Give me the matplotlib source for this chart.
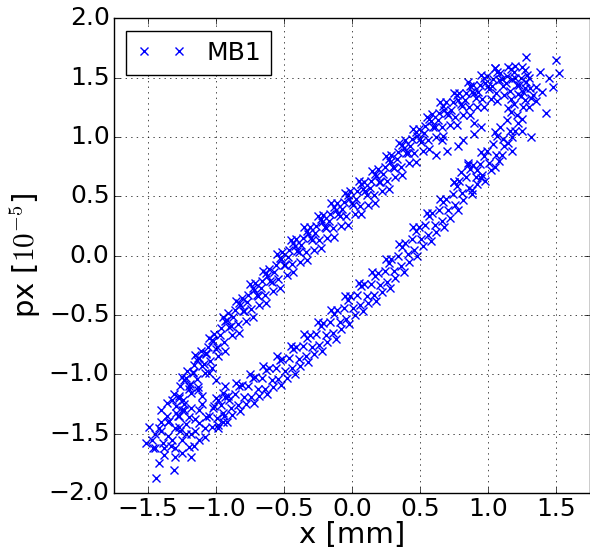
import numpy as np
import matplotlib
matplotlib.use('Agg')
import matplotlib.pyplot as plt

plt.style.use('classic')

# upper band of the ring
upper_x = [-1.31, -1.29, -1.27, -1.32, -1.26, -1.24, -1.23, -1.27, -1.21, -1.19, -1.18, -1.22,
           -1.16, -1.14, -1.13, -1.17, -1.11, -1.09, -1.08, -1.12, -1.06, -1.04, -1.03, -1.07,
           -1.01, -0.99, -0.98, -1.02, -0.96, -0.94, -0.93, -0.97, -0.91, -0.89, -0.88, -0.92,
           -0.86, -0.84, -0.83, -0.87, -0.81, -0.79, -0.78, -0.82, -0.76, -0.74, -0.73, -0.77,
           -0.71, -0.69, -0.68, -0.72, -0.66, -0.64, -0.63, -0.67, -0.61, -0.59, -0.58, -0.62,
           -0.56, -0.54, -0.53, -0.57, -0.51, -0.49, -0.48, -0.52, -0.46, -0.44, -0.43, -0.47,
           -0.41, -0.39, -0.38, -0.42, -0.36, -0.34, -0.33, -0.37, -0.31, -0.29, -0.28, -0.32,
           -0.26, -0.24, -0.23, -0.27, -0.21, -0.19, -0.18, -0.22, -0.16, -0.14, -0.13, -0.17,
           -0.11, -0.09, -0.08, -0.12, -0.06, -0.04, -0.03, -0.07, -0.01, 0.01, 0.02, -0.02,
           0.04, 0.06, 0.07, 0.03, 0.09, 0.11, 0.12, 0.08, 0.14, 0.16, 0.17, 0.13,
           0.19, 0.21, 0.22, 0.18, 0.24, 0.26, 0.27, 0.23, 0.29, 0.31, 0.32, 0.28,
           0.34, 0.36, 0.37, 0.33, 0.39, 0.41, 0.42, 0.38, 0.44, 0.46, 0.47, 0.43,
           0.49, 0.51, 0.52, 0.48, 0.54, 0.56, 0.57, 0.53, 0.59, 0.61, 0.62, 0.58,
           0.64, 0.66, 0.67, 0.63, 0.69, 0.71, 0.72, 0.68, 0.74, 0.76, 0.77, 0.73,
           0.79, 0.81, 0.82, 0.78, 0.84, 0.86, 0.87, 0.83, 0.89, 0.91, 0.92, 0.88,
           0.94, 0.96, 0.97, 0.93, 0.99, 1.01, 1.02, 0.98, 1.04, 1.06, 1.07, 1.03,
           1.09, 1.11, 1.12, 1.08, 1.14, 1.16, 1.17, 1.13, 1.19, 1.21, 1.22, 1.18,
           1.24, 1.26, 1.27, 1.23, 1.29, 1.31, 1.32, 1.28]
upper_y = [-1.17, -1.27, -1.35, -1.22, -1.10, -1.22, -1.05, -1.18, -0.97, -1.08, -1.16, -1.03,
           -0.92, -1.04, -0.86, -0.98, -0.80, -0.91, -0.99, -0.86, -0.77, -0.89, -0.71, -0.83,
           -0.66, -0.77, -0.85, -0.72, -0.61, -0.73, -0.55, -0.67, -0.48, -0.59, -0.67, -0.54,
           -0.46, -0.58, -0.40, -0.52, -0.36, -0.47, -0.55, -0.42, -0.33, -0.45, -0.27, -0.39,
           -0.23, -0.34, -0.42, -0.29, -0.21, -0.33, -0.15, -0.27, -0.11, -0.22, -0.30, -0.17,
           -0.08, -0.20, -0.02, -0.14, 0.03, -0.08, -0.16, -0.03, 0.05, -0.07, 0.11, -0.01,
           0.14, 0.03, -0.05, 0.08, 0.15, 0.03, 0.21, 0.09, 0.24, 0.13, 0.05, 0.18,
           0.25, 0.13, 0.31, 0.19, 0.34, 0.23, 0.15, 0.28, 0.35, 0.23, 0.41, 0.29,
           0.44, 0.33, 0.25, 0.38, 0.45, 0.33, 0.51, 0.39, 0.54, 0.43, 0.35, 0.48,
           0.54, 0.42, 0.60, 0.48, 0.62, 0.51, 0.43, 0.56, 0.63, 0.51, 0.69, 0.57,
           0.73, 0.62, 0.54, 0.67, 0.75, 0.63, 0.81, 0.69, 0.85, 0.74, 0.66, 0.79,
           0.87, 0.75, 0.93, 0.81, 0.97, 0.86, 0.78, 0.91, 0.98, 0.86, 1.04, 0.92,
           1.07, 0.96, 0.88, 1.01, 1.09, 0.97, 1.15, 1.03, 1.19, 1.08, 1.00, 1.13,
           1.20, 1.08, 1.26, 1.14, 1.29, 1.18, 1.10, 1.23, 1.29, 1.17, 1.35, 1.23,
           1.37, 1.26, 1.18, 1.31, 1.37, 1.25, 1.43, 1.31, 1.44, 1.33, 1.25, 1.38,
           1.44, 1.32, 1.50, 1.38, 1.51, 1.40, 1.32, 1.45, 1.49, 1.37, 1.55, 1.43,
           1.54, 1.43, 1.35, 1.48, 1.51, 1.39, 1.57, 1.45, 1.55, 1.44, 1.36, 1.49,
           1.50, 1.38, 1.56, 1.44, 1.52, 1.41, 1.33, 1.46]

# edges of the upper band
upper2_x = [-1.25, -1.23, -1.20, -1.15, -1.13, -1.10, -1.05, -1.03, -1.00, -0.95, -0.93, -0.90,
            -0.85, -0.83, -0.80, -0.75, -0.73, -0.70, -0.65, -0.63, -0.60, -0.55, -0.53, -0.50,
            -0.45, -0.43, -0.40, -0.35, -0.33, -0.30, -0.25, -0.23, -0.20, -0.15, -0.13, -0.10,
            -0.05, -0.03, 0.00, 0.05, 0.07, 0.10, 0.15, 0.17, 0.20, 0.25, 0.27, 0.30,
            0.35, 0.37, 0.40, 0.45, 0.47, 0.50, 0.55, 0.57, 0.60, 0.65, 0.67, 0.70,
            0.75, 0.77, 0.80, 0.85, 0.87, 0.90, 0.95, 0.97, 1.00, 1.05, 1.07, 1.10,
            1.15, 1.17, 1.20, 1.25, 1.27, 1.30]
upper2_y = [-1.02, -1.30, -1.12, -0.84, -1.11, -0.93, -0.69, -0.95, -0.79, -0.52, -0.80, -0.60,
            -0.38, -0.65, -0.47, -0.24, -0.52, -0.33, -0.13, -0.40, -0.21, 0.01, -0.27, -0.08,
            0.13, -0.14, 0.04, 0.24, -0.04, 0.15, 0.33, 0.06, 0.24, 0.44, 0.16, 0.35,
            0.53, 0.26, 0.44, 0.63, 0.35, 0.54, 0.71, 0.44, 0.62, 0.84, 0.56, 0.75,
            0.95, 0.68, 0.86, 1.07, 0.79, 0.98, 1.17, 0.90, 1.08, 1.29, 1.01, 1.20,
            1.37, 1.10, 1.28, 1.46, 1.18, 1.37, 1.52, 1.25, 1.43, 1.58, 1.30, 1.49,
            1.59, 1.32, 1.50, 1.59, 1.31, 1.50]

# lower band of the ring
lower_x = [-1.01, -0.99, -0.98, -0.96, -0.94, -0.93, -0.91, -0.89, -0.88, -0.86, -0.84, -0.83,
           -0.81, -0.79, -0.78, -0.76, -0.74, -0.73, -0.71, -0.69, -0.68, -0.66, -0.64, -0.63,
           -0.61, -0.59, -0.58, -0.56, -0.54, -0.53, -0.51, -0.49, -0.48, -0.46, -0.44, -0.43,
           -0.41, -0.39, -0.38, -0.36, -0.34, -0.33, -0.31, -0.29, -0.28, -0.26, -0.24, -0.23,
           -0.21, -0.19, -0.18, -0.16, -0.14, -0.13, -0.11, -0.09, -0.08, -0.06, -0.04, -0.03,
           -0.01, 0.01, 0.02, 0.04, 0.06, 0.07, 0.09, 0.11, 0.12, 0.14, 0.16, 0.17,
           0.19, 0.21, 0.22, 0.24, 0.26, 0.27, 0.29, 0.31, 0.32, 0.34, 0.36, 0.37,
           0.39, 0.41, 0.42, 0.44, 0.46, 0.47, 0.49, 0.51, 0.52, 0.54, 0.56, 0.57,
           0.59, 0.61, 0.62, 0.64, 0.66, 0.67, 0.69, 0.71, 0.72, 0.74, 0.76, 0.77,
           0.79, 0.81, 0.82, 0.84, 0.86, 0.87, 0.89, 0.91, 0.92, 0.94, 0.96, 0.97,
           0.99, 1.01, 1.02, 1.04, 1.06, 1.07, 1.09, 1.11, 1.12, 1.14, 1.16, 1.17,
           1.19, 1.21, 1.22, 1.24, 1.26, 1.27]
lower_y = [-1.27, -1.37, -1.43, -1.26, -1.35, -1.19, -1.18, -1.28, -1.34, -1.17, -1.26, -1.10,
           -1.09, -1.19, -1.25, -1.10, -1.19, -1.03, -1.02, -1.12, -1.18, -1.03, -1.12, -0.96,
           -0.95, -1.05, -1.11, -0.95, -1.04, -0.88, -0.87, -0.97, -1.03, -0.86, -0.95, -0.79,
           -0.77, -0.87, -0.93, -0.76, -0.85, -0.69, -0.67, -0.77, -0.83, -0.66, -0.75, -0.59,
           -0.57, -0.67, -0.73, -0.56, -0.65, -0.49, -0.46, -0.56, -0.62, -0.44, -0.53, -0.37,
           -0.34, -0.44, -0.50, -0.33, -0.42, -0.26, -0.24, -0.34, -0.40, -0.24, -0.33, -0.17,
           -0.15, -0.25, -0.31, -0.13, -0.22, -0.06, -0.03, -0.13, -0.19, 0.00, -0.09, 0.07,
           0.11, 0.01, -0.05, 0.14, 0.05, 0.21, 0.24, 0.14, 0.08, 0.26, 0.17, 0.33,
           0.36, 0.26, 0.20, 0.38, 0.29, 0.45, 0.48, 0.38, 0.32, 0.52, 0.43, 0.59,
           0.63, 0.53, 0.47, 0.66, 0.57, 0.73, 0.76, 0.66, 0.60, 0.77, 0.68, 0.84,
           0.88, 0.78, 0.72, 0.94, 0.85, 1.01, 1.08, 0.98, 0.92, 1.14, 1.05, 1.21,
           1.28, 1.18, 1.12, 1.34, 1.25, 1.41]

# edges of the lower band
lower2_x = [-0.95, -0.92, -0.85, -0.82, -0.75, -0.72, -0.65, -0.62, -0.55, -0.52, -0.45, -0.42,
            -0.35, -0.32, -0.25, -0.22, -0.15, -0.12, -0.05, -0.02, 0.05, 0.08, 0.15, 0.18,
            0.25, 0.28, 0.35, 0.38, 0.45, 0.48, 0.55, 0.58, 0.65, 0.68, 0.75, 0.78,
            0.85, 0.88, 0.95, 0.98, 1.05, 1.08, 1.15, 1.18]
lower2_y = [-1.16, -1.40, -1.07, -1.31, -1.00, -1.24, -0.93, -1.17, -0.85, -1.09, -0.76, -1.00,
            -0.66, -0.90, -0.56, -0.80, -0.46, -0.70, -0.34, -0.58, -0.23, -0.47, -0.14, -0.38,
            -0.03, -0.27, 0.10, -0.14, 0.24, 0.00, 0.36, 0.12, 0.48, 0.24, 0.62, 0.38,
            0.76, 0.52, 0.87, 0.63, 1.04, 0.80, 1.24, 1.00]

# thick lower-left end of the ring
blob_x = [-1.49, -1.44, -1.31, -1.42, -1.38, -1.36, -1.27, -1.20, -1.17, -1.14, -1.07, -1.25,
          -1.32, -1.12, -1.03, -1.07, -0.95, -0.90, -0.98, -1.20, -1.27, -1.47, -1.51, -1.39,
          -1.22, -1.12, -1.00, -0.93, -1.05, -1.29, -1.34, -1.20, -1.40, -1.35, -1.15, -1.25,
          -1.30, -1.10, -1.45, -1.18, -1.45, -1.40, -1.35, -1.30, -1.28, -1.25, -1.22, -1.18,
          -1.15, -1.12, -1.08, -1.05, -1.02, -1.00, -1.10, -1.18, -1.33, -1.38, -1.42, -1.36,
          -1.30, -1.26, -1.16, -1.08, -0.98, -0.95, -1.13, -1.23, -1.40, -1.46]
blob_y = [-1.44, -1.87, -1.81, -1.75, -1.68, -1.24, -1.20, -1.10, -0.99, -0.88, -0.82, -1.66,
          -1.55, -1.55, -1.44, -1.36, -1.33, -1.22, -1.22, -1.36, -1.44, -1.55, -1.58, -1.58,
          -1.50, -1.41, -1.05, -1.10, -0.99, -1.33, -1.39, -1.61, -1.48, -1.40, -1.48, -1.30,
          -1.62, -1.25, -1.62, -1.70, -1.50, -1.40, -1.52, -1.45, -1.35, -1.55, -1.42, -1.50,
          -1.38, -1.30, -1.45, -1.35, -1.28, -1.20, -1.18, -1.28, -1.60, -1.62, -1.45, -1.35,
          -1.70, -1.48, -1.60, -1.53, -1.45, -1.40, -1.13, -1.25, -1.30, -1.62]

# upper-right loop and stray points
loop_x = [0.78, 0.70, 0.62, 0.82, 0.66, 0.90, 0.90, 0.95, 0.80, 0.85, 0.75, 0.88,
          0.95, 1.05, 1.10, 1.15, 1.20, 1.25, 1.30, 1.33, 1.35, 1.25, 1.18, 1.28,
          1.50, 1.52, 1.43, 1.32, 1.48, 1.45, 1.38, 1.35, 1.40, 1.05, 1.20, 0.92]
loop_y = [0.92, 0.88, 0.85, 0.97, 0.97, 1.02, 1.12, 1.08, 0.70, 0.78, 0.62, 0.55,
          0.65, 0.75, 0.85, 0.95, 1.05, 1.15, 1.25, 1.35, 1.42, 1.05, 0.88, 1.67,
          1.65, 1.54, 1.20, 1.00, 1.42, 1.50, 1.55, 1.30, 1.38, 1.58, 1.60, 0.72]

x = np.concatenate([upper_x, upper2_x, lower_x, lower2_x, blob_x, loop_x])
px = np.concatenate([upper_y, upper2_y, lower_y, lower2_y, blob_y, loop_y])

fig = plt.figure(figsize=(5.9, 5.6), dpi=100, facecolor='white')
ax = fig.add_axes([0.1927, 0.1196, 0.8073, 0.848])
ax.plot(x, px, 'x', color='blue', markersize=6, markeredgewidth=1, label='MB1')

ax.set_xlim(-1.75, 1.75)
ax.set_ylim(-2.0, 2.0)
ax.set_xticks([-1.5, -1.0, -0.5, 0.0, 0.5, 1.0, 1.5])
ax.set_yticks(np.arange(-2.0, 2.01, 0.5))
ax.grid(True)
ax.tick_params(labelsize=18, pad=3)
ax.set_xlabel('x [mm]', fontsize=21, labelpad=0)
ax.set_ylabel('px [$10^{-5}$]', fontsize=21, labelpad=4)
ax.legend(loc='upper left', numpoints=2, fontsize=18)

fig.savefig('out.png', dpi=100, facecolor='white')
